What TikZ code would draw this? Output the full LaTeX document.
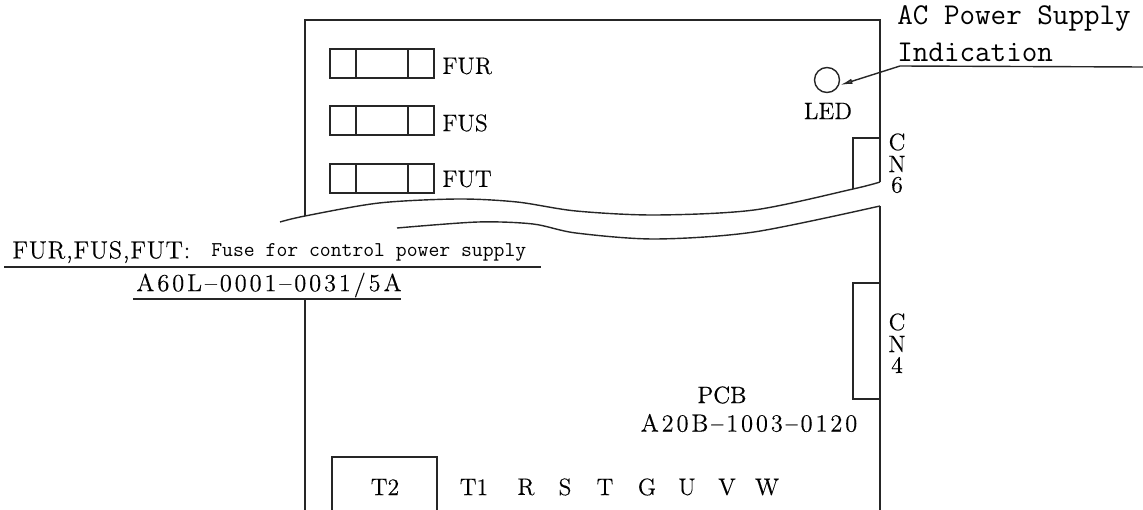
\documentclass[tikz,border=0pt]{standalone}
\usepackage{fontspec}
\setmainfont{Latin Modern Roman}[FakeBold=0.25]
\newfontfamily\widefont[LetterSpace=11.5,FakeBold=0.25]{Latin Modern Roman}
\newfontfamily\notefont[LetterSpace=3,FakeBold=0.25]{Latin Modern Roman}
\newfontfamily\headfont[FakeBold=0.7]{Latin Modern Roman}
\usetikzlibrary{positioning,arrows.meta}
\tikzset{
    line/.style={line width=0.8pt, black!85},
    lbl/.style={inner sep=0pt, font=\fontsize{13.5}{15}\selectfont},
    head/.style={inner sep=0pt, font=\headfont\fontsize{13.5}{15}\selectfont},
    num/.style={inner sep=0pt, font=\widefont\fontsize{14}{16}\selectfont},
    note/.style={inner sep=0pt, anchor=west, font=\notefont\fontsize{14}{16}\selectfont},
    mono/.style={inner sep=0pt, anchor=west, font=\ttfamily\fontsize{17.2}{20}\selectfont},
    small mono/.style={inner sep=0pt, anchor=west, font=\ttfamily\fontsize{12}{14}\selectfont},
}

\begin{document}
\begin{tikzpicture}[x=0.02cm,y=-0.02cm]
    \useasboundingbox (0,0) rectangle (1143,510);

    % Board outline
    \draw [line] (305,216) -- (305,20) -- (880,20) -- (880,182);
    \draw [line] (880,206) -- (880,510);
    \coordinate (gapleft) at (305,299);
    \coordinate (boardbottom) at (305,510);
    \draw [line] (gapleft) -- (boardbottom);

    % Break lines
    \draw [line] plot [smooth] coordinates {(280,222) (305,216) (379,203) (458,199) (517,202) (576,211) (655,215) (754,210) (853,189) (880,182)};
    \draw [line] plot [smooth] coordinates {(397,228) (478,222) (533,224) (576,233) (655,239) (754,232) (880,206)};

    % Fuses
    \foreach \y/\ty/\name in {49/66/FUR, 106/123/FUS, 164/179/FUT} {
        \draw [line] (330,\y) rectangle (434,\y+29);
        \draw [line] (356,\y) -- (356,\y+29) (408,\y) -- (408,\y+29);
        \node (\name) [lbl, anchor=west] at (442,\ty) {\name};
    }

    % LED
    \node (led) [line, draw, circle, minimum size=0.5cm, inner sep=0pt] at (827,80) {};
    \node (ledlabel) [lbl] at (828,111) {LED};
    \node (supply) [mono] at (897,19) {AC Power Supply};
    \node (indication) [mono] at (897,52) {Indication};
    \coordinate (leaderend) at (1143,67);
    \coordinate (leaderknee) at (900,66);
    \draw [line, -{Latex[length=7pt,width=3pt,fill=black!50]}] (leaderend) -- (leaderknee) -- (led.east |- 0,85);

    % Connectors
    \draw [line] (880,138) -- (853,138) -- (853,189);
    \draw [line] (880,283) -- (853,283) -- (853,399) -- (880,399);
    \foreach \y/\ch/\name in {142/C/a, 164/N/b, 185/6/c}
        \node (cn6\name) [lbl] at (897,\y) {\ch};
    \foreach \y/\ch/\name in {322/C/a, 344/N/b, 365/4/c}
        \node (cn4\name) [lbl] at (897,\y) {\ch};

    % Fuse note
    \node (fusenames) [note] at (12,252) {FUR,FUS,FUT:};
    \node (fusetext) [small mono] at (211,252) {Fuse for control power supply};
    \node (fusepart) [num] at (269,285) {A60L\textendash 0001\textendash 0031/5A};
    \draw [line] (4,267) -- (541,267);
    \draw [line] (133,299) -- (401,299);

    % Board labels
    \node (pcb) [head] at (722,395) {PCB};
    \node (pcbpart) [num] at (749,423) {A20B\textendash 1003\textendash 0120};

    % Terminals
    \draw [line] (332,510) -- (332,457) -- (437,457) -- (437,510);
    \node (t2) [lbl] at (385,487) {T2};
    \foreach \x/\name in {474/T1, 526/R, 565/S, 605/T, 647/G, 687/U, 727/V, 767/W}
        \node (term\name) [lbl] at (\x,487) {\name};
\end{tikzpicture}
\end{document}
